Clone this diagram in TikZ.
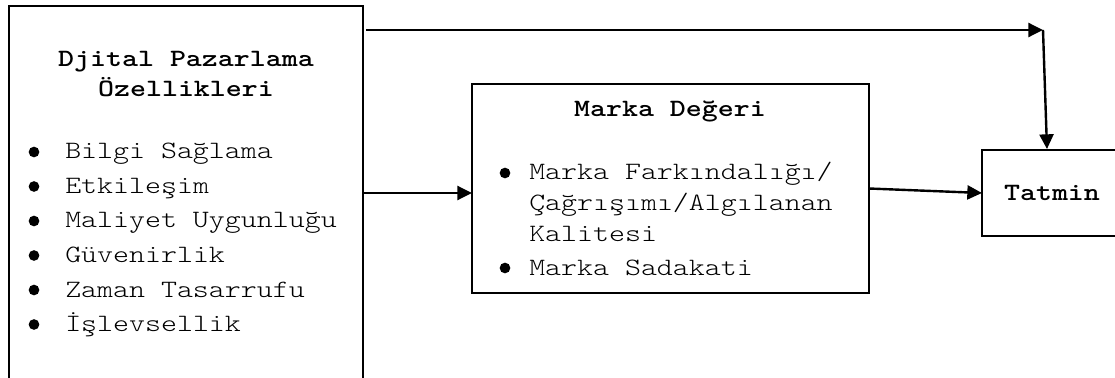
\documentclass[tikz,border=0pt]{standalone}
\usepackage{fontspec}
\newfontfamily\cour{lmmonolt10}[Extension=.otf,UprightFont=*-regular,BoldFont=*-bold,FakeStretch=1.22]
\usetikzlibrary{arrows.meta,calc}
\begin{document}
\begin{tikzpicture}[x=0.75pt,y=-0.75pt,
  box/.style={draw,line width=1.8pt,inner sep=0pt,outer sep=0pt,anchor=north west},
  conn/.style={line width=1.8pt,-{Triangle[length=11pt,width=10.5pt]}},
  item/.style={font=\cour\fontsize{18.7}{25}\selectfont,anchor=base west,inner sep=0pt},
  head/.style={font=\cour\bfseries\fontsize{18.7}{25}\selectfont,anchor=base,inner sep=0pt},
  dot/.style={fill=black}]
\clip (0,0) rectangle (1115,378);
\fill[white] (0,0) rectangle (1115,378);
% boxes
\node[box,minimum width=265.5pt,minimum height=280.5pt] (L) at (9,6) {};
\node[box,minimum width=297.75pt,minimum height=156.75pt] (M) at (472,84) {};
\node[box,minimum width=105pt,minimum height=64.5pt] (T) at (982,150) {};
% left box text
\node[head] (l1) at (186,67) {Djital Pazarlama};
\node[head] (l2) at (186,97) {Özellikleri};
\foreach \y/\t [count=\i] in {159/Bilgi Sağlama,193.5/Etkileşim,228/Maliyet Uygunluğu,262.5/Güvenirlik,297/Zaman Tasarrufu,331.5/İşlevsellik}{
  \fill[dot] (34,\y-7) circle (4pt);
  \node[item] (li\i) at (65,\y) {\t};
}
% middle box text
\node[head] (m0) at (670,117) {Marka Değeri};
\fill[dot] (505,173) circle (4pt);
\node[item] (m1) at (529,180) {Marka Farkındalığı/};
\node[item] (m2) at (529,210) {Çağrışımı/Algılanan};
\node[item] (m3) at (529,241) {Kalitesi};
\fill[dot] (505,268) circle (4pt);
\node[item] (m4) at (529,275) {Marka Sadakati};
% right box text
\node[head] (t0) at (1052,200) {Tatmin};
% connectors
\coordinate (c) at (1043,30);
\draw[conn] ($(L.north east)+(3,24)$) -- (c);
\draw[conn] (c) -- ($(T.north)+(-5,-1)$);
\draw[conn] (L.east) -- (M.west |- L.east);
\draw[conn] (M.east) -- (T.west);
\end{tikzpicture}
\end{document}
